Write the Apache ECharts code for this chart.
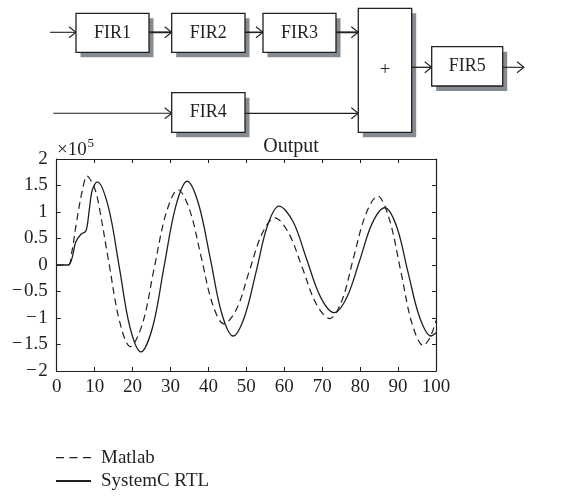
<!DOCTYPE html>
<html><head><meta charset="utf-8">
<script src="https://cdn.jsdelivr.net/npm/echarts@6/dist/echarts.min.js"></script>
<style>html,body{margin:0;padding:0;background:#fff}#c{width:581px;height:504px}</style>
</head><body><div id="c"></div>
<script>
// ---- data ----
const matlabX = [0, 3, 4, 5.2, 6.8, 8.0, 9.8, 10.9, 13.7, 16.6, 19.4, 22.6, 25.7, 28.9, 32.0, 35.0, 38.1, 41.1, 44.1, 47.5, 50.8, 54.2, 57.5, 61.1, 64.8, 68.4, 72.0, 75.2, 78.3, 81.5, 84.6, 87.6, 90.7, 93.7, 96.7, 98.0, 99.0, 100];
const matlabY = [0, 0, 0.25, 0.8, 1.42, 1.68, 1.48, 1.21, 0.07, -1.07, -1.54, -1.11, -0.06, 0.99, 1.42, 1.05, 0.15, -0.74, -1.11, -0.82, -0.11, 0.6, 0.89, 0.61, -0.06, -0.73, -1.01, -0.67, 0.15, 0.96, 1.30, 0.89, -0.11, -1.11, -1.52, -1.42, -1.27, -1.05];
const rtlX = [0, 3, 4, 5.0, 6.4, 7.7, 8.6, 9.4, 10.7, 13.6, 16.5, 19.3, 22.2, 25.3, 28.3, 31.4, 34.4, 37.4, 40.5, 43.5, 46.5, 49.5, 52.6, 55.6, 58.6, 62.3, 65.9, 69.6, 73.2, 76.5, 79.9, 83.2, 86.5, 89.6, 92.6, 95.7, 98.7, 100];
const rtlY = [0, 0, 0.12, 0.43, 0.58, 0.64, 1.05, 1.42, 1.57, 1.10, -0.04, -1.17, -1.64, -1.17, -0.03, 1.11, 1.58, 1.15, 0.12, -0.91, -1.34, -0.98, -0.12, 0.75, 1.11, 0.82, 0.11, -0.61, -0.90, -0.61, 0.09, 0.79, 1.08, 0.73, -0.13, -0.99, -1.34, -1.28];
const seriesNames = ['Matlab', 'SystemC RTL'];
const blockLabels = ['FIR1', 'FIR2', 'FIR3', 'FIR4', 'FIR5', '+'];
const titleText = 'Output';
const scaleBase = '\u00d710';
const scaleExp = '5';

// ---- styling ----
const FONT = '"Liberation Serif", "DejaVu Serif", serif';
const INK = '#231f20';

function pairs(xs, ys) { return xs.map((x, i) => [x, ys[i]]); }

const G = [];
function box(x, y, w, h, label, fs) {
  G.push({type: 'rect', shape: {x: x + 4.5, y: y + 5, width: w, height: h}, style: {fill: '#858c91'}, z: 1});
  G.push({type: 'rect', shape: {x: x, y: y, width: w, height: h}, style: {fill: '#fff', stroke: INK, lineWidth: 1.3}, z: 2});
  G.push({type: 'text', z: 3, style: {text: label, x: x + w / 2, y: y + h / 2, fill: INK,
    font: fs + 'px ' + FONT, textAlign: 'center', textVerticalAlign: 'middle', align: 'center', verticalAlign: 'middle'}});
}
function arrow(x1, x2, y, lw) {
  G.push({type: 'line', shape: {x1: x1, y1: y, x2: x2, y2: y}, style: {stroke: INK, lineWidth: lw}, z: 2});
  G.push({type: 'polyline', shape: {points: [[x2 - 7, y - 5.5], [x2, y], [x2 - 7, y + 5.5]]}, style: {stroke: INK, lineWidth: 1.1, fill: null}, z: 2});
}
// block diagram
arrow(50, 76, 32.3, 1.1);
box(76, 13.3, 73, 39, blockLabels[0], 18);
arrow(149, 171.7, 32.3, 1.9);
box(171.7, 13.3, 73.3, 39, blockLabels[1], 18);
arrow(245, 263, 32.3, 1.6);
box(263, 13.3, 73, 39, blockLabels[2], 18);
arrow(336, 358.3, 32.3, 1.9);
arrow(53.3, 171.7, 113.3, 1.1);
box(171.7, 92.7, 73.3, 39.6, blockLabels[3], 18);
arrow(245, 358.3, 113.3, 1.3);
box(358.3, 8.3, 53.4, 124, blockLabels[5], 19);
arrow(411.7, 431.7, 67.3, 1.3);
box(431.7, 46.7, 71, 39.3, blockLabels[4], 18);
arrow(502.7, 524, 67.3, 1.1);

// plot title and scale factor
G.push({type: 'text', z: 3, style: {text: titleText, x: 291, y: 147, fill: INK, font: '20px ' + FONT,
  textAlign: 'center', textVerticalAlign: 'middle', align: 'center', verticalAlign: 'middle'}});
G.push({type: 'text', z: 3, style: {text: scaleBase, x: 57, y: 150, fill: INK, font: '19px ' + FONT,
  textAlign: 'left', textVerticalAlign: 'middle', align: 'left', verticalAlign: 'middle'}});
G.push({type: 'text', z: 3, style: {text: scaleExp, x: 87.5, y: 144, fill: INK, font: '13px ' + FONT,
  textAlign: 'left', textVerticalAlign: 'middle', align: 'left', verticalAlign: 'middle'}});

const axisLineStyle = {show: true, onZero: false, lineStyle: {color: INK, width: 1.2}};
const labelStyle = {color: INK, fontFamily: FONT, fontSize: 19};
function minus(v) { return (v < 0 ? '\u2212\u200a' : '') + Math.abs(v); }

const option = {
  animation: false,
  backgroundColor: '#fff',
  grid: {left: 56.7, right: 145, top: 159, bottom: 133, containLabel: false},
  xAxis: [
    {type: 'value', min: 0, max: 100, interval: 10, position: 'bottom',
      axisLine: axisLineStyle, axisTick: {show: true, inside: true, length: 4, lineStyle: {color: INK, width: 1}},
      axisLabel: Object.assign({margin: 7, formatter: minus}, labelStyle), splitLine: {show: false}},
    {type: 'value', min: 0, max: 100, interval: 10, position: 'top',
      axisLine: axisLineStyle, axisTick: {show: true, inside: true, length: 4, lineStyle: {color: INK, width: 1}},
      axisLabel: {show: false}, splitLine: {show: false}}
  ],
  yAxis: [
    {type: 'value', min: -2, max: 2, interval: 0.5, position: 'left',
      axisLine: axisLineStyle, axisTick: {show: true, inside: true, length: 4, lineStyle: {color: INK, width: 1}},
      axisLabel: Object.assign({margin: 9, formatter: minus}, labelStyle), splitLine: {show: false}},
    {type: 'value', min: -2, max: 2, interval: 0.5, position: 'right',
      axisLine: axisLineStyle, axisTick: {show: true, inside: true, length: 4, lineStyle: {color: INK, width: 1}},
      axisLabel: {show: false}, splitLine: {show: false}}
  ],
  legend: {
    left: 55, top: 447.7, orient: 'vertical', padding: 0, itemWidth: 35, itemHeight: 14, itemGap: 3.3,
    itemStyle: {opacity: 0, borderWidth: 0},
    textStyle: {color: INK, fontFamily: FONT, fontSize: 19, lineHeight: 20, padding: [0, 0, 0, 5]},
    data: [{name: seriesNames[0], lineStyle: {type: [8, 5.5], width: 1.2}}, seriesNames[1]]
  },
  series: [
    {name: seriesNames[0], type: 'line', data: pairs(matlabX, matlabY), symbol: 'none', smooth: 0.35,
      lineStyle: {color: INK, width: 1.2, type: [7, 4.5]}, itemStyle: {color: INK}},
    {name: seriesNames[1], type: 'line', data: pairs(rtlX, rtlY), symbol: 'none', smooth: 0.35,
      lineStyle: {color: INK, width: 1.3, type: 'solid'}, itemStyle: {color: INK}}
  ],
  graphic: {elements: G}
};
const chart = echarts.init(document.getElementById('c'), null, {renderer: 'canvas'});
chart.setOption(option);
</script>
</body></html>
